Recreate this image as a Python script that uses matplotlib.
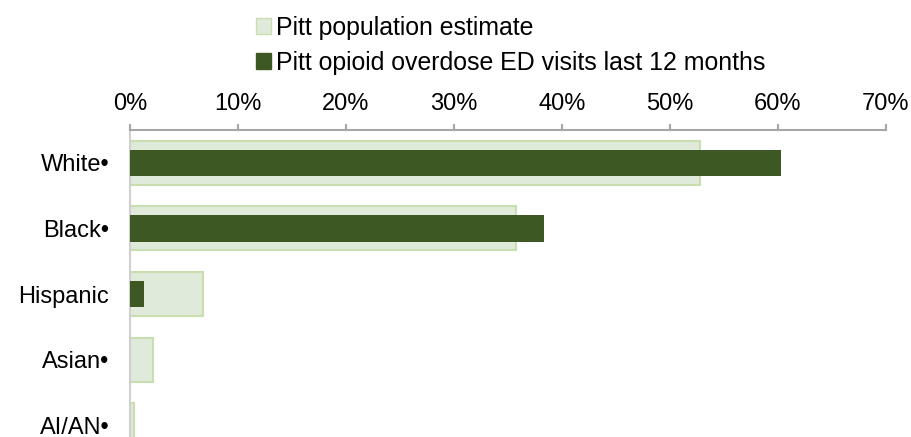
import matplotlib.pyplot as plt
from matplotlib.patches import Patch
from matplotlib.ticker import PercentFormatter

plt.rcParams['font.family'] = ['Liberation Sans', 'DejaVu Sans']

# categories and values (percent)
groups = ["White•", "Black•", "Hispanic", "Asian•", "AI/AN•"]
pop_est = [52.8, 35.7, 6.8, 2.1, 0.35]
ed_visits = [60.3, 38.3, 1.3, 0.0, 0.0]
ticks = [0, 10, 20, 30, 40, 50, 60, 70]

light_fill = "#E0EADB"
light_edge = "#C9DEAE"
dark_fill = "#3E5824"

W, H = 911, 437
fig = plt.figure(figsize=(W / 100, H / 100), dpi=100)
# axes spans past the bottom edge like the cropped original
ax = fig.add_axes([130 / W, 1 - 458 / H, (886 - 130) / W, (458 - 130) / H])

ypos = list(range(len(groups)))
ax.barh(ypos, pop_est, height=0.67, color=light_fill, edgecolor=light_edge, linewidth=1.5, zorder=2)
ax.barh(ypos, ed_visits, height=0.40, color=dark_fill, linewidth=0, zorder=3)

ax.set_xlim(0, 70)
ax.set_ylim(4.5, -0.5)
ax.set_xticks(ticks)
ax.xaxis.set_major_formatter(PercentFormatter(decimals=0))
ax.xaxis.tick_top()
ax.tick_params(axis='x', direction='out', length=4.3, width=1.5, color='#A6A6A6',
               labelsize=17, pad=6.5)
ax.set_yticks(ypos)
ax.set_yticklabels(groups)
ax.tick_params(axis='y', length=0, labelsize=17, pad=15)

for side in ['right', 'bottom']:
    ax.spines[side].set_visible(False)
ax.spines['top'].set_color('#A6A6A6')
ax.spines['top'].set_linewidth(1.5)
ax.spines['left'].set_color('#D0D0D0')
ax.spines['left'].set_linewidth(1.5)

handles = [Patch(facecolor=light_fill, edgecolor=light_edge, linewidth=1.0),
           Patch(facecolor=dark_fill, edgecolor=dark_fill)]
labels = ["Pitt population estimate", "Pitt opioid overdose ED visits last 12 months"]
fig.legend(handles, labels, loc='upper left', bbox_to_anchor=(256 / W, 1 - 16 / H),
           frameon=False, fontsize=17.9, handlelength=0.6, handleheight=0.6,
           handletextpad=0.22, labelspacing=0.44, borderpad=0, borderaxespad=0)

fig.savefig("out.png", dpi=100)
